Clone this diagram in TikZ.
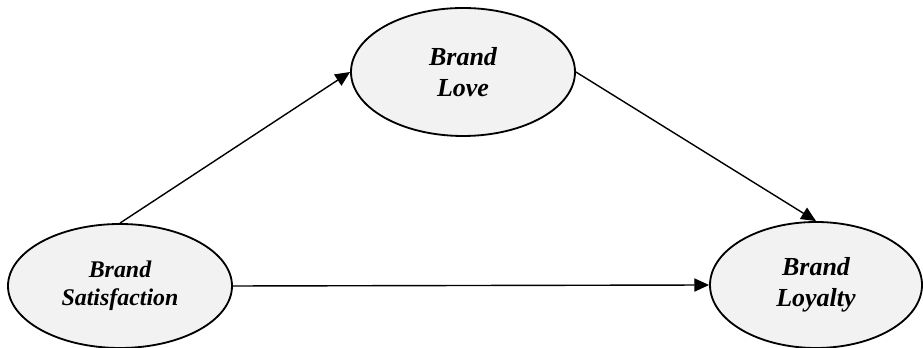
\documentclass[tikz,border=0pt]{standalone}
\usepackage{fontspec}
\setmainfont{Liberation Serif}
\usetikzlibrary{arrows.meta}
\usetikzlibrary{shapes.geometric}

\definecolor{ovalgray}{RGB}{242,242,242}

\tikzset{
  construct/.style={ellipse,draw=black,fill=ovalgray,line width=1.3pt,inner sep=0pt,
    align=center,font=\fontsize{18.5}{22}\selectfont\bfseries\itshape},
  path/.style={line width=1pt,-{Triangle[length=0.37cm,width=0.33cm]}}
}

\begin{document}
\begin{tikzpicture}

\useasboundingbox (0,0) rectangle (23.075,8.7);

\node[construct,minimum width=5.6cm,minimum height=3.1cm,font=\fontsize{17}{20}\selectfont\bfseries\itshape] (sat) at (3.0,1.55) {Brand\\Satisfaction};
\node[construct,minimum width=5.6cm,minimum height=3.2cm] (love) at (11.575,6.9) {Brand\\Love};
\node[construct,minimum width=5.3cm,minimum height=3.15cm] (loy) at (20.4,1.575) {Brand\\Loyalty};

\draw[path] (sat.north) -- (love.west);
\draw[path] (love.east) -- (loy.north);
\draw[path] (sat.east) -- (loy.west);

\end{tikzpicture}
\end{document}
